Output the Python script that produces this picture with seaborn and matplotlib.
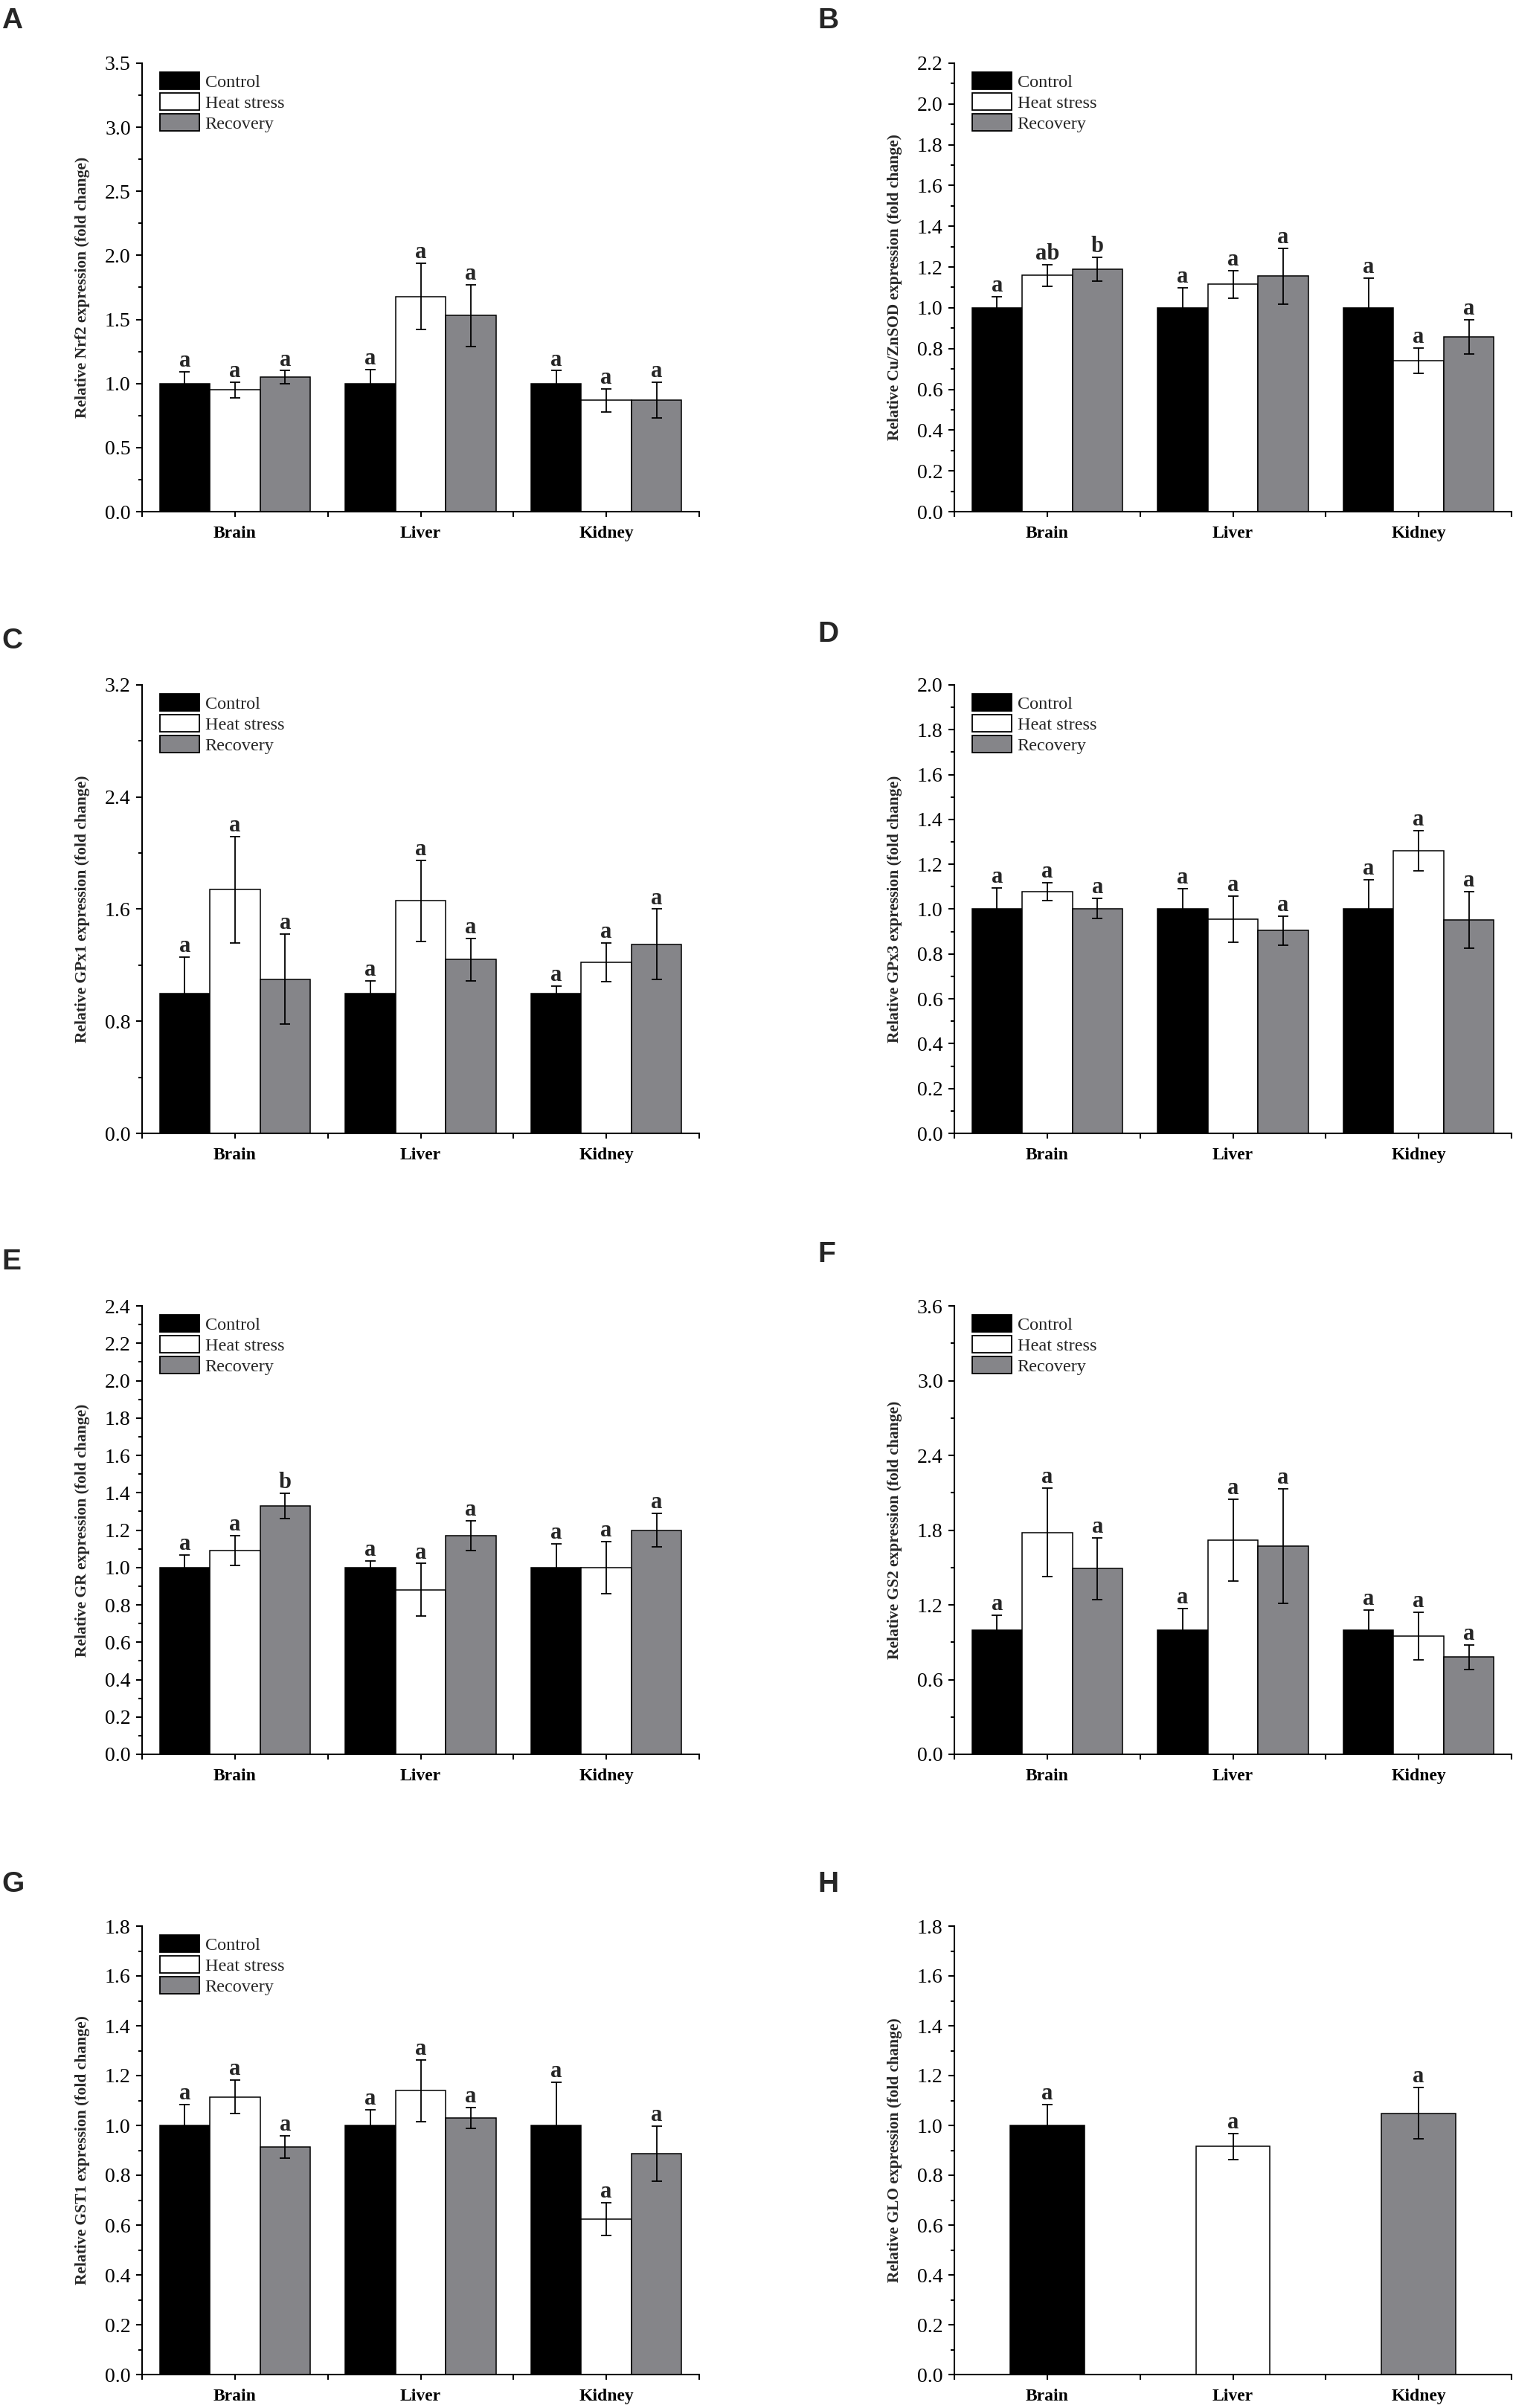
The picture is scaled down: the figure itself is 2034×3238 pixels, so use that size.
import numpy as np
import pandas as pd
import matplotlib
matplotlib.use('Agg')
import matplotlib.pyplot as plt
from matplotlib.patches import Patch
from matplotlib.ticker import MultipleLocator, FormatStrFormatter
import seaborn as sns

DPI = 100
FIG_W, FIG_H = 2034, 3238

TISSUES = ['Brain', 'Liver', 'Kidney']
GROUPS = ['Control', 'Heat stress', 'Recovery']
COLORS = ['#000000', '#ffffff', '#858589']

# values per tissue (rows) and group (columns)
nrf2_mean = [[1.00, 0.95, 1.05], [1.00, 1.68, 1.53], [1.00, 0.87, 0.87]]
nrf2_err = [[0.09, 0.06, 0.05], [0.11, 0.26, 0.24], [0.10, 0.09, 0.14]]
nrf2_sig = [['a', 'a', 'a'], ['a', 'a', 'a'], ['a', 'a', 'a']]

sod_mean = [[1.00, 1.16, 1.19], [1.00, 1.115, 1.155], [1.00, 0.74, 0.857]]
sod_err = [[0.053, 0.053, 0.058], [0.098, 0.068, 0.137], [0.146, 0.062, 0.083]]
sod_sig = [['a', 'ab', 'b'], ['a', 'a', 'a'], ['a', 'a', 'a']]

gpx1_mean = [[1.00, 1.74, 1.10], [1.00, 1.66, 1.24], [1.00, 1.22, 1.35]]
gpx1_err = [[0.26, 0.38, 0.32], [0.09, 0.29, 0.15], [0.05, 0.14, 0.25]]
gpx1_sig = [['a', 'a', 'a'], ['a', 'a', 'a'], ['a', 'a', 'a']]

gpx3_mean = [[1.00, 1.078, 1.003], [1.00, 0.956, 0.905], [1.00, 1.26, 0.952]]
gpx3_err = [[0.095, 0.039, 0.044], [0.09, 0.103, 0.065], [0.131, 0.09, 0.126]]
gpx3_sig = [['a', 'a', 'a'], ['a', 'a', 'a'], ['a', 'a', 'a']]

gr_mean = [[1.00, 1.09, 1.33], [1.00, 0.88, 1.17], [1.00, 1.00, 1.20]]
gr_err = [[0.068, 0.081, 0.068], [0.035, 0.141, 0.079], [0.128, 0.14, 0.091]]
gr_sig = [['a', 'a', 'b'], ['a', 'a', 'a'], ['a', 'a', 'a']]

gs2_mean = [[1.00, 1.78, 1.49], [1.00, 1.72, 1.67], [1.00, 0.95, 0.78]]
gs2_err = [[0.117, 0.355, 0.25], [0.169, 0.326, 0.46], [0.157, 0.19, 0.099]]
gs2_sig = [['a', 'a', 'a'], ['a', 'a', 'a'], ['a', 'a', 'a']]

gst1_mean = [[1.00, 1.114, 0.914], [1.00, 1.139, 1.03], [1.00, 0.625, 0.887]]
gst1_err = [[0.083, 0.067, 0.045], [0.062, 0.125, 0.042], [0.174, 0.066, 0.11]]
gst1_sig = [['a', 'a', 'a'], ['a', 'a', 'a'], ['a', 'a', 'a']]

# GLO: one value per tissue
glo_mean = [1.00, 0.915, 1.048]
glo_err = [0.083, 0.052, 0.103]
glo_sig = ['a', 'a', 'a']

PANELS = [
    ('A', 'Nrf2', nrf2_mean, nrf2_err, nrf2_sig, 3.5, 0.5),
    ('B', 'Cu/ZnSOD', sod_mean, sod_err, sod_sig, 2.2, 0.2),
    ('C', 'GPx1', gpx1_mean, gpx1_err, gpx1_sig, 3.2, 0.8),
    ('D', 'GPx3', gpx3_mean, gpx3_err, gpx3_sig, 2.0, 0.2),
    ('E', 'GR', gr_mean, gr_err, gr_sig, 2.4, 0.2),
    ('F', 'GS2', gs2_mean, gs2_err, gs2_sig, 3.6, 0.6),
    ('G', 'GST1', gst1_mean, gst1_err, gst1_sig, 1.8, 0.2),
    ('H', 'GLO', glo_mean, glo_err, glo_sig, 1.8, 0.2),
]

# layout in pixels
COL_X = [191, 1283]
AX_W, AX_H = 749, 603
ROW_TOP = [85, 921, 1756, 2590]
LETTER_POS = [(2, 10), (1099, 10), (2, 844), (1099, 835),
              (2, 1679), (1099, 1669), (2, 2516), (1099, 2516)]

TICK_FS = 20
CAT_FS = 17
LEG_FS = 17.5
SIG_FS = 22
YLAB_FS = 15.5
LW = 1.5

sns.set_theme(style='ticks')
plt.rcParams['font.family'] = ['Liberation Serif', 'DejaVu Serif']

fig = plt.figure(figsize=(FIG_W / DPI, FIG_H / DPI), dpi=DPI)
fig.patch.set_facecolor('white')


def style_axes(ax, ymax, step):
    ax.set_xlim(-0.5, 2.5)
    ax.set_ylim(0, ymax)
    ax.yaxis.set_major_locator(MultipleLocator(step))
    ax.yaxis.set_minor_locator(MultipleLocator(step / 2))
    ax.yaxis.set_major_formatter(FormatStrFormatter('%.1f'))
    ax.xaxis.set_minor_locator(MultipleLocator(0.5))
    ax.set_xlabel('')
    sns.despine(ax=ax)
    for side in ['left', 'bottom']:
        ax.spines[side].set_linewidth(LW)
        ax.spines[side].set_color('black')
    ax.tick_params(axis='y', which='major', length=6, width=LW, colors='black',
                   labelsize=TICK_FS, pad=5, direction='out')
    ax.tick_params(axis='y', which='minor', length=3.5, width=LW, colors='black',
                   direction='out')
    ax.tick_params(axis='x', which='both', length=5, width=LW, colors='black',
                   direction='out')
    ax.tick_params(axis='x', which='major', pad=9)
    for lab in ax.get_xticklabels():
        lab.set_fontweight('bold')
        lab.set_fontsize(CAT_FS)
    ax.set_facecolor('white')
    ax.grid(False)


def add_errors(ax, bars, errs, sigs):
    x = [b.get_x() + b.get_width() / 2 for b in bars]
    y = [b.get_height() for b in bars]
    ax.errorbar(x, y, yerr=errs, fmt='none', ecolor='black', elinewidth=1.3,
                capsize=5, capthick=1.3, zorder=3)
    for xi, yi, ei, s in zip(x, y, errs, sigs):
        ax.annotate(s, (xi, yi + ei), xytext=(0, 5), textcoords='offset points',
                    ha='center', va='baseline', fontsize=SIG_FS, fontweight='bold')


for i, (letter, gene, mean, err, sig, ymax, step) in enumerate(PANELS):
    col, row = i % 2, i // 2
    rect = [COL_X[col] / FIG_W, 1 - (ROW_TOP[row] + AX_H) / FIG_H,
            AX_W / FIG_W, AX_H / FIG_H]
    ax = fig.add_axes(rect)

    if letter != 'H':
        df = pd.DataFrame({
            'tissue': np.repeat(TISSUES, len(GROUPS)),
            'group': GROUPS * len(TISSUES),
            'value': np.ravel(mean),
        })
        sns.barplot(data=df, x='tissue', y='value', hue='group', order=TISSUES,
                    hue_order=GROUPS, palette=COLORS, saturation=1, width=0.81,
                    edgecolor='black', linewidth=1.1, errorbar=None,
                    legend=False, ax=ax)
        bar_groups = list(ax.containers)
        for g, cont in enumerate(bar_groups):
            add_errors(ax, list(cont), [err[t][g] for t in range(3)],
                       [sig[t][g] for t in range(3)])
        handles = [Patch(facecolor=c, edgecolor='black', linewidth=1.3, label=g)
                   for c, g in zip(COLORS, GROUPS)]
        ax.legend(handles=handles, loc='upper left',
                  bbox_to_anchor=(24 / AX_W, 1 - 12 / AX_H), borderaxespad=0,
                  borderpad=0, frameon=False, fontsize=LEG_FS, handlelength=2.2,
                  handleheight=1.1, labelspacing=0.12, handletextpad=0.3)
    else:
        df = pd.DataFrame({'tissue': TISSUES, 'value': mean})
        sns.barplot(data=df, x='tissue', y='value', hue='tissue', order=TISSUES,
                    hue_order=TISSUES, palette=COLORS, saturation=1, width=0.4,
                    edgecolor='black', linewidth=1.1, errorbar=None,
                    legend=False, ax=ax)
        bars = sorted(ax.patches, key=lambda b: b.get_x())
        add_errors(ax, bars, err, sig)

    style_axes(ax, ymax, step)
    ax.set_ylabel(f'Relative {gene} expression (fold change)', fontsize=YLAB_FS,
                  fontweight='bold')
    ax.yaxis.set_label_coords(-0.093, 0.5)

    lx, ly = LETTER_POS[i]
    fig.text(lx / FIG_W, 1 - ly / FIG_H, letter, ha='left', va='top',
             fontsize=28, fontweight='bold',
             family=['Liberation Sans', 'DejaVu Sans'])

fig.savefig('out.png', dpi=DPI, facecolor='white')
